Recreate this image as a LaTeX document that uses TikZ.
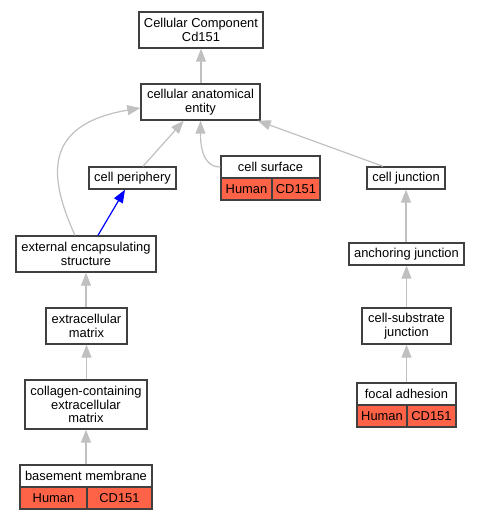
\documentclass[tikz,border=0pt]{standalone}
\usepackage{fontspec}
\setmainfont{Liberation Sans}
\usetikzlibrary{arrows.meta,calc}
\definecolor{edgegray}{RGB}{192,192,192}
\definecolor{boxgray}{RGB}{64,64,64}
\definecolor{tomatofill}{RGB}{255,99,71}
\newcommand\nodefont{\fontsize{12.9bp}{13.4bp}\selectfont}
\tikzset{
  box/.style={draw=boxgray, line width=1.4bp, fill=white, inner sep=0pt, align=center, font=\nodefont},
  hcell/.style={box, fill=tomatofill},
  edge/.style={draw=edgegray, line width=1.2bp, -{Triangle[length=13bp,width=10bp]}},
  blueedge/.style={edge, draw=blue}
}
\begin{document}
\begin{tikzpicture}[x=1bp,y=-1bp]
\useasboundingbox (0,0) rectangle (480,520);
% nodes
\node[box, minimum width=124bp, minimum height=36bp] (top) at (201,30) {Cellular Component\\Cd151};
\node[box, minimum width=119bp, minimum height=36bp] (cae) at (200.5,102) {cellular anatomical\\entity};
\node[box, minimum width=87bp, minimum height=22bp] (cp) at (132.5,178) {cell periphery};
\node[box, minimum width=99bp, minimum height=22bp] (cs) at (270.5,167) {cell surface};
\node[hcell, minimum width=51bp, minimum height=22bp] (csh) at (246.5,189) {Human};
\node[hcell, minimum width=48bp, minimum height=22bp] (csc) at (296,189) {CD151};
\node[box, minimum width=78bp, minimum height=22bp] (cj) at (406,178) {cell junction};
\node[box, minimum width=140bp, minimum height=36bp] (ees) at (86,254) {external encapsulating\\structure};
\node[box, minimum width=115bp, minimum height=22bp] (aj) at (406.5,254) {anchoring junction};
\node[box, minimum width=81bp, minimum height=36bp] (ecm) at (86.5,326) {extracellular\\matrix};
\node[box, minimum width=89bp, minimum height=36bp] (csj) at (406.5,326) {cell-substrate\\junction};
\node[box, minimum width=122bp, minimum height=49bp] (ccem) at (86,404.5) {collagen-containing\\extracellular\\matrix};
\node[box, minimum width=99bp, minimum height=22bp] (fa) at (406.5,394) {focal adhesion};
\node[hcell, minimum width=50bp, minimum height=22bp] (fah) at (382,416) {Human};
\node[hcell, minimum width=49bp, minimum height=22bp] (fac) at (431.5,416) {CD151};
\node[box, minimum width=132bp, minimum height=22bp] (bm) at (86,476) {basement membrane};
\node[hcell, minimum width=67bp, minimum height=22bp] (bmh) at (53.5,498) {Human};
\node[hcell, minimum width=65bp, minimum height=22bp] (bmc) at (119.5,498) {CD151};
% edges
\draw[edge] (cae.north -| top.south) -- (top.south);
\draw[edge] (cp) -- (cae);
\draw[edge] (cs.west) to[out=180,in=-90] (cae.south);
\draw[edge] ($(cj.north)+(-23,0)$) -- ($(cae.south east)+(-3,0)$);
\draw[edge] ($(ees.north)+(-11,0)$) .. controls (50,180) and (40,125) .. ($(cae.west)+(0,6)$);
\draw[blueedge] ($(ees.north)+(12,0)$) -- ($(cp.south)+(-7.5,0)$);
\draw[edge] (aj.north -| cj.south) -- (cj.south);
\draw[edge] (csj.north -| aj.south) -- (aj.south);
\draw[edge] (fa.north -| csj.south) -- (csj.south);
\draw[edge] (ecm.north -| ees.south) -- (ees.south);
\draw[edge] (ccem.north -| ecm.south) -- (ecm.south);
\draw[edge] (bm.north -| ccem.south) -- (ccem.south);
\end{tikzpicture}
\end{document}
